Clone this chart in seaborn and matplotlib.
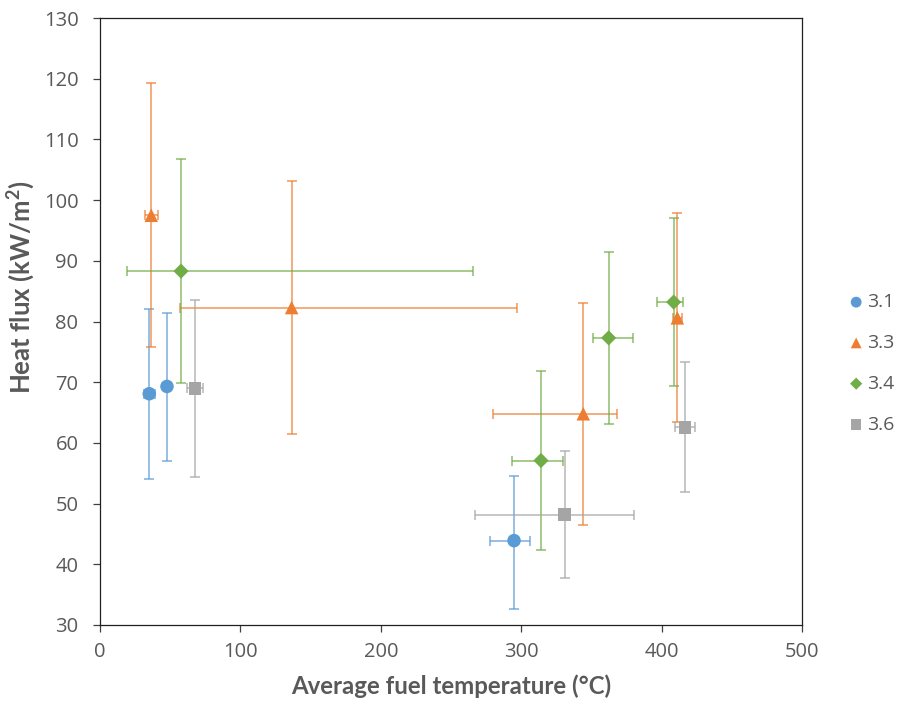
import matplotlib
matplotlib.use("Agg")
import matplotlib.pyplot as plt
import seaborn as sns
import pandas as pd
import numpy as np

# ---- data ----
series_names = ["3.1", "3.3", "3.4", "3.6"]

x_31 = [35.1, 47.7, 294.9]
y_31 = [68.1, 69.3, 43.9]
xerr_lo_31 = [4.0, 2.0, 17.0]
xerr_hi_31 = [4.0, 2.0, 11.4]
yerr_lo_31 = [14.1, 12.2, 11.2]
yerr_hi_31 = [13.9, 12.1, 10.7]

x_33 = [36.5, 136.5, 344.2, 411.2]
y_33 = [97.5, 82.3, 64.8, 80.6]
xerr_lo_33 = [4.5, 79.3, 64.5, 3.0]
xerr_hi_33 = [4.5, 160.5, 23.8, 3.0]
yerr_lo_33 = [21.7, 20.8, 18.3, 17.2]
yerr_hi_33 = [21.8, 20.8, 18.2, 17.2]

x_34 = [57.7, 314.1, 362.3, 408.6]
y_34 = [88.3, 57.1, 77.3, 83.2]
xerr_lo_34 = [38.3, 20.7, 11.4, 12.0]
xerr_hi_34 = [208.2, 15.9, 17.3, 6.4]
yerr_lo_34 = [18.4, 14.8, 14.2, 13.9]
yerr_hi_34 = [18.5, 14.8, 14.2, 13.8]

x_36 = [67.7, 331.0, 416.7]
y_36 = [69.0, 48.2, 62.6]
xerr_lo_36 = [5.5, 64.1, 7.4]
xerr_hi_36 = [5.5, 49.3, 7.4]
yerr_lo_36 = [14.6, 10.5, 10.7]
yerr_hi_36 = [14.6, 10.4, 10.7]

x_ticks = [0, 100, 200, 300, 400, 500]
y_ticks = [30, 40, 50, 60, 70, 80, 90, 100, 110, 120, 130]

# ---- styling ----
colors = {"3.1": "#5B9BD5", "3.3": "#ED7D31", "3.4": "#70AD47", "3.6": "#A5A5A5"}
markers = {"3.1": "o", "3.3": "^", "3.4": "D", "3.6": "s"}
msizes = {"3.1": 95, "3.3": 95, "3.4": 60, "3.6": 85}

data = {
    "3.1": (x_31, y_31, xerr_lo_31, xerr_hi_31, yerr_lo_31, yerr_hi_31),
    "3.3": (x_33, y_33, xerr_lo_33, xerr_hi_33, yerr_lo_33, yerr_hi_33),
    "3.4": (x_34, y_34, xerr_lo_34, xerr_hi_34, yerr_lo_34, yerr_hi_34),
    "3.6": (x_36, y_36, xerr_lo_36, xerr_hi_36, yerr_lo_36, yerr_hi_36),
}

sns.set_theme(style="white")
plt.rcParams["font.family"] = ["Open Sans", "DejaVu Sans"]

fig = plt.figure(figsize=(9.05, 7.07), dpi=100)
ax = fig.add_axes([100 / 905, 1 - 625 / 707, 702 / 905, (625 - 18) / 707])

text_color = "#595959"

for i, name in enumerate(series_names):
    xs, ys, xl, xh, yl, yh = data[name]
    ax.errorbar(xs, ys, xerr=[xl, xh], yerr=[yl, yh], fmt="none",
                ecolor=colors[name], alpha=0.8, elinewidth=1.1,
                capsize=3.8, capthick=1.1, zorder=2 + i * 0.01)

for i, name in enumerate(series_names):
    xs, ys = data[name][0], data[name][1]
    df = pd.DataFrame({"x": xs, "y": ys})
    sns.scatterplot(data=df, x="x", y="y", ax=ax, marker=markers[name],
                    s=msizes[name], color=colors[name], edgecolor="none",
                    linewidth=0, label=name, zorder=3 + i * 0.01)

ax.set_xlim(0, 500)
ax.set_ylim(30, 130)
ax.set_xticks(x_ticks)
ax.set_yticks(y_ticks)
ax.tick_params(axis="both", which="major", direction="out", length=5,
               width=0.9, color="#404040", labelsize=14.5, labelcolor=text_color,
               left=True, bottom=True)
ax.tick_params(axis="x", pad=7.5)
ax.tick_params(axis="y", pad=10.5)
for sp in ax.spines.values():
    sp.set_visible(True)
    sp.set_color("#202020")
    sp.set_linewidth(0.9)

ax.set_xlabel("Average fuel temperature (°C)", fontsize=17.3, fontweight="bold",
              color=text_color, labelpad=9, family=["Lato", "DejaVu Sans"])
ax.set_ylabel("Heat flux (kW/m$^\\mathregular{2}$)", fontsize=18.5, fontweight="bold",
              color=text_color, family=["Lato", "DejaVu Sans"])
ax.yaxis.set_label_coords(-0.09, 0.557)

leg = ax.legend(loc="center left", bbox_to_anchor=(1.037, 0.431), frameon=False,
                fontsize=14, labelcolor=text_color, handletextpad=0.0,
                labelspacing=1.17, handlelength=1.1, markerscale=0.8)

fig.savefig("out.png", dpi=100)
